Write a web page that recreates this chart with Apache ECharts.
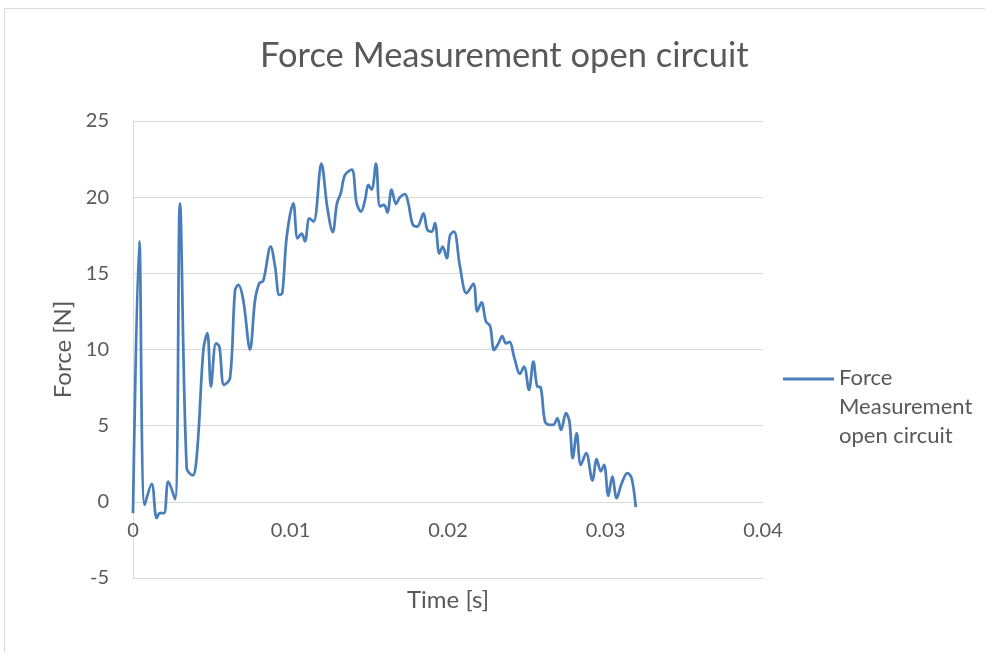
<!DOCTYPE html>
<html>
<head>
<meta charset="utf-8">
<script src="https://cdn.jsdelivr.net/npm/echarts@6/dist/echarts.min.js"></script>
<style>
  html, body { margin: 0; padding: 0; background: #fff; }
  #chart { width: 985px; height: 652px; }
</style>
</head>
<body>
<div id="chart"></div>
<script>
// time in seconds, force in N
const timeS = [
  0, 0.00040, 0.00074, 0.00119, 0.00150, 0.00171, 0.00197, 0.00224, 0.00267, 0.00298,
  0.00341, 0.00379, 0.00408, 0.00447, 0.00472, 0.00495, 0.00527, 0.00548, 0.00578, 0.00616,
  0.00648, 0.00669, 0.00700, 0.00743, 0.00775, 0.00802, 0.00827, 0.00874, 0.00902, 0.00929,
  0.00948, 0.00976, 0.01018, 0.01045, 0.01071, 0.01092, 0.01120, 0.01147, 0.01196, 0.01234,
  0.01268, 0.01295, 0.01319, 0.01346, 0.01389, 0.01420, 0.01448, 0.01473, 0.01494, 0.01515,
  0.01543, 0.01568, 0.01594, 0.01615, 0.01642, 0.01670, 0.01695, 0.01727, 0.01748, 0.01776,
  0.01805, 0.01844, 0.01869, 0.01897, 0.01917, 0.01945, 0.01966, 0.01992, 0.02013, 0.02038,
  0.02076, 0.02118, 0.02161, 0.02186, 0.02213, 0.02241, 0.02267, 0.02293, 0.02320, 0.02344,
  0.02368, 0.02391, 0.02420, 0.02457, 0.02483, 0.02514, 0.02542, 0.02567, 0.02588, 0.02616,
  0.02648, 0.02669, 0.02694, 0.02718, 0.02749, 0.02771, 0.02792, 0.02817, 0.02843, 0.02877,
  0.02917, 0.02944, 0.02970, 0.02991, 0.03018, 0.03043, 0.03071, 0.03103, 0.03139, 0.03166,
  0.03192
];
const forceN = [
  -0.74, 17.1, -0.2, 1.18, -1.07, -0.74, -0.74, 1.33, 0.17, 19.6,
  2.2, 1.73, 3.4, 10.0, 11.07, 7.57, 10.4, 10.2, 7.68, 8.1,
  13.9, 14.24, 13.25, 10.0, 13.25, 14.35, 14.5, 16.75, 15.44, 13.58,
  13.7, 17.4, 19.6, 17.3, 17.6, 17.1, 18.6, 18.4, 22.2, 19.3,
  17.7, 19.6, 20.25, 21.46, 21.8, 19.6, 19.05, 19.8, 20.8, 20.5,
  22.2, 19.4, 19.5, 19.0, 20.5, 19.55, 20.0, 20.2, 19.6, 18.2,
  18.07, 18.94, 17.85, 17.74, 18.3, 16.3, 16.75, 16.0, 17.5, 17.74,
  15.44, 13.7, 14.3, 12.5, 13.1, 11.83, 11.55, 9.97, 10.4, 10.88,
  10.4, 10.5, 9.5, 8.4, 8.88, 7.35, 9.2, 7.57, 7.52, 5.27,
  5.05, 5.05, 5.49, 4.72, 5.82, 5.27, 2.87, 4.5, 2.43, 3.19,
  1.4, 2.8, 2.0, 2.43, 0.39, 1.66, 0.24, 1.22, 1.88, 1.55,
  -0.35
];
const seriesName = 'Force Measurement open circuit';
const xTicks = [0, 0.01, 0.02, 0.03, 0.04];
const yTicks = [-5, 0, 5, 10, 15, 20, 25];

const textColor = '#595959';
const gridColor = '#d9d9d9';
const lineColor = '#4a7ebb';
const font = 'Lato, "Open Sans", sans-serif';

const chart = echarts.init(document.getElementById('chart'));
chart.setOption({
  animation: false,
  textStyle: { fontFamily: font, color: textColor },
  graphic: [{
    type: 'rect',
    shape: { x: 4.5, y: 8.5, width: 1000, height: 700 },
    style: { fill: 'none', stroke: gridColor, lineWidth: 1 },
    silent: true
  }],
  title: {
    text: seriesName,
    left: 255,
    top: 33,
    textStyle: { fontFamily: font, fontSize: 34.5, fontWeight: 'normal', color: textColor }
  },
  legend: {
    left: 778,
    top: 358,
    orient: 'vertical',
    data: [seriesName],
    itemWidth: 51,
    itemHeight: 58,
    icon: 'path://M0,0H50V3H0Z M0,58H0.05V58.05H0Z',
    symbolKeepAspect: false,
    formatter: () => 'Force\nMeasurement\nopen circuit',
    textStyle: { fontFamily: font, fontSize: 22, lineHeight: 29, color: textColor }
  },
  grid: { left: 133, right: 222, top: 121, bottom: 74 },
  xAxis: {
    type: 'value',
    min: xTicks[0],
    max: xTicks[xTicks.length - 1],
    interval: 0.01,
    name: 'Time [s]',
    nameLocation: 'middle',
    nameGap: 10,
    nameTextStyle: { fontSize: 24, color: textColor },
    axisLine: { show: true, onZero: false, lineStyle: { color: gridColor, width: 1 } },
    axisTick: { show: false },
    splitLine: { show: false },
    // labels sit just under the zero line (5 units = 76px above the bottom)
    axisLabel: { fontSize: 20, color: textColor, margin: -57, formatter: v => String(v) }
  },
  yAxis: {
    type: 'value',
    min: yTicks[0],
    max: yTicks[yTicks.length - 1],
    interval: 5,
    name: 'Force [N]',
    nameLocation: 'middle',
    nameGap: 57,
    nameTextStyle: { fontSize: 24, color: textColor },
    axisLine: { show: true, lineStyle: { color: gridColor, width: 1 } },
    axisTick: { show: false },
    splitLine: { show: true, lineStyle: { color: gridColor, width: 1 } },
    axisLabel: { fontSize: 20, color: textColor, margin: 24 }
  },
  series: [{
    name: seriesName,
    type: 'line',
    data: timeS.map((t, i) => [t, forceN[i]]),
    showSymbol: false,
    smooth: 0.35,
    color: lineColor,
    lineStyle: { color: lineColor, width: 2.75 }
  }]
});
</script>
</body>
</html>
